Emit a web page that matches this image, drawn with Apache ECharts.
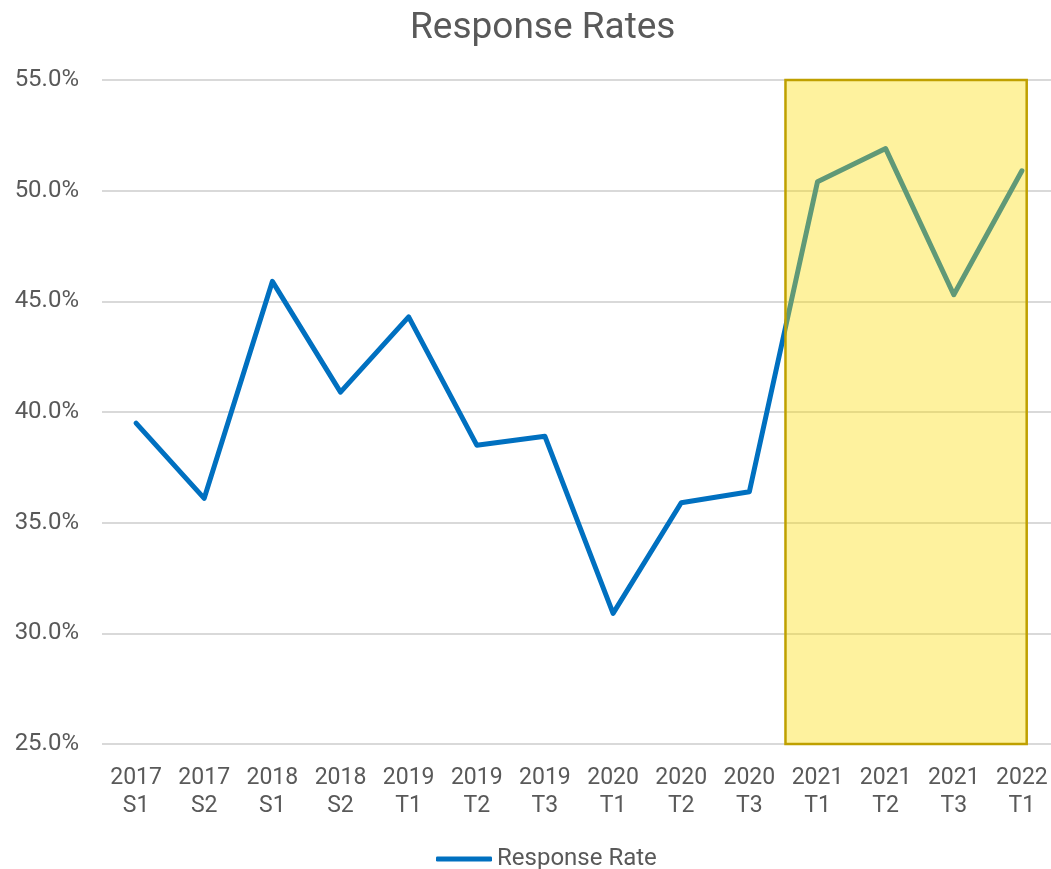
<!DOCTYPE html>
<html>
<head>
<meta charset="utf-8">
<title>Response Rates</title>
<script src="https://cdn.jsdelivr.net/npm/echarts@6/dist/echarts.min.js"></script>
<style>
  html, body { margin: 0; padding: 0; background: #fff; }
  #chart { width: 1051px; height: 869px; }
</style>
</head>
<body>
<div id="chart"></div>
<script>
// Survey terms and the response rate (%)
const terms = ['2017\nS1', '2017\nS2', '2018\nS1', '2018\nS2', '2019\nT1', '2019\nT2', '2019\nT3',
  '2020\nT1', '2020\nT2', '2020\nT3', '2021\nT1', '2021\nT2', '2021\nT3', '2022\nT1'];
const responseRate = [39.5, 36.1, 45.9, 40.9, 44.3, 38.5, 38.9, 30.9, 35.9, 36.4, 50.4, 51.9, 45.3, 50.9];

// Highlight box, in category-index units on x and percent on y
const highlightFrom = 9.53;
const highlightTo = 13.07;
const highlightLow = 25;
const highlightHigh = 55;

const TEXT = '#595959';
const FONT = 'Roboto';

const chart = echarts.init(document.getElementById('chart'));

// fractional category index -> pixel x, via the axis' own coords of the neighbouring bands
function xAt(api, idx) {
  const i = Math.floor(idx);
  const a = api.coord([i, highlightLow])[0];
  const b = api.coord([i + 1, highlightLow])[0];
  return a + (b - a) * (idx - i);
}

chart.setOption({
  animation: false,
  title: {
    text: 'Response Rates',
    left: 405,
    top: 5,
    textStyle: { fontFamily: FONT, fontSize: 37, fontWeight: 'normal', color: TEXT },
  },
  legend: {
    data: [{ name: 'Response Rate', icon: 'roundRect' }],
    left: 431,
    top: 842,
    itemWidth: 56,
    itemHeight: 5,
    itemGap: 4,
    textStyle: { fontFamily: FONT, fontSize: 24, color: TEXT },
  },
  // the last band runs past the right edge of the canvas, as in the source
  grid: { left: 102, width: 954, top: 80, bottom: 125, outerBoundsMode: 'none', containLabel: false },
  xAxis: {
    type: 'category',
    data: terms,
    boundaryGap: true,
    axisLine: { show: false },
    axisTick: { show: false },
    axisLabel: {
      interval: 0, margin: 20, lineHeight: 28,
      fontFamily: FONT, fontSize: 23, color: TEXT,
    },
  },
  yAxis: {
    type: 'value',
    min: 25, max: 55, interval: 5,
    axisLine: { show: false },
    axisTick: { show: false },
    splitLine: { lineStyle: { color: '#d9d9d9', width: 2 } },
    axisLabel: {
      margin: 23, fontFamily: FONT, fontSize: 24, color: TEXT,
      formatter: (v) => v.toFixed(1) + '%',
    },
  },
  series: [
    {
      name: 'Response Rate',
      type: 'line',
      data: responseRate,
      symbol: 'none',
      z: 2,
      lineStyle: { color: '#0070C0', width: 5, cap: 'round', join: 'round' },
      itemStyle: { color: '#0070C0' },
    },
    {
      // translucent box laid over the latest terms
      type: 'custom',
      z: 5,
      silent: true,
      data: [[highlightFrom, highlightLow]],
      renderItem: (params, api) => {
        const x0 = xAt(api, highlightFrom);
        const x1 = xAt(api, highlightTo);
        const yTop = api.coord([0, highlightHigh])[1];
        const yBot = api.coord([0, highlightLow])[1];
        return {
          type: 'rect',
          shape: { x: x0, y: yTop, width: x1 - x0, height: yBot - yTop },
          style: { fill: 'rgba(252, 222, 0, 0.38)', stroke: '#BFA000', lineWidth: 2.5 },
        };
      },
    },
  ],
});
</script>
</body>
</html>
